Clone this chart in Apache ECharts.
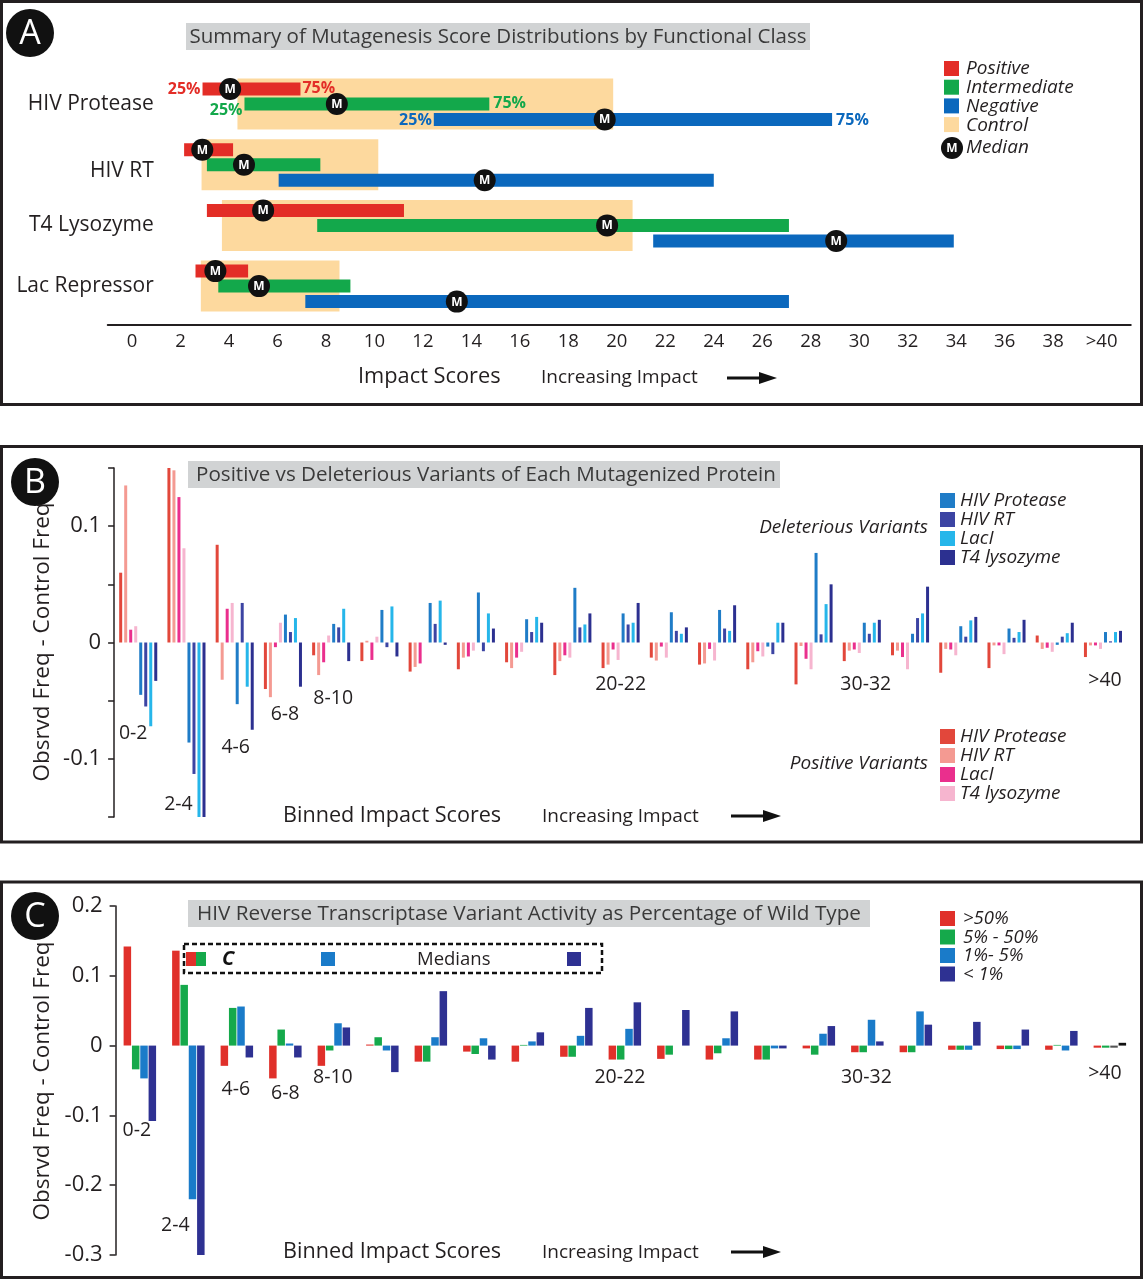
<!DOCTYPE html>
<html><head><meta charset="utf-8">
<script src="https://cdn.jsdelivr.net/npm/echarts@6/dist/echarts.min.js"></script>
<style>html,body{margin:0;padding:0;background:#fff}#main{width:1143px;height:1280px}</style>
</head><body><div id="main"></div>
<script>
const FONT = '"Open Sans", "Noto Sans", sans-serif';
const INK = '#231f20';

// ---------- Panel A data ----------
const proteins = ['HIV Protease', 'HIV RT', 'T4 Lysozyme', 'Lac Repressor'];
const scoreTicks = [0,2,4,6,8,10,12,14,16,18,20,22,24,26,28,30,32,34,36,38,40];
const controlLow = [4.35, 2.87, 3.71, 2.84];
const controlHigh = [19.85, 10.16, 20.65, 8.56];
const positiveLow = [2.91, 2.15, 3.09, 2.62];
const positiveHigh = [6.95, 4.17, 11.22, 4.79];
const positiveMedian = [4.05, 2.90, 5.41, 3.44];
const intermediateLow = [4.64, 3.09, 7.64, 3.56];
const intermediateHigh = [14.74, 7.77, 27.1, 9.01];
const intermediateMedian = [8.45, 4.62, 19.6, 5.24];
const negativeLow = [12.45, 6.05, 21.5, 7.15];
const negativeHigh = [28.88, 24.0, 33.9, 27.1];
const negativeMedian = [19.5, 14.55, 29.05, 13.4];

// ---------- Panel B data ----------
const bins = ['0-2','2-4','4-6','6-8','8-10','10-12','12-14','14-16','16-18','18-20','20-22','22-24','24-26','26-28','28-30','30-32','32-34','34-36','36-38','38-40','>40'];
const posProtease = [0.060, 0.150, 0.084, -0.040, -0.011, -0.016, -0.025, -0.023, -0.017, -0.028, -0.022, -0.013, -0.019, -0.023, -0.036, -0.016, -0.011, -0.026, -0.022, 0.006, -0.0125];
const posRT = [0.135, 0.148, -0.032, -0.047, -0.028, 0.0015, -0.021, -0.013, -0.022, -0.016, -0.019, -0.0155, -0.018, -0.017, -0.003, -0.007, -0.007, -0.0055, -0.0025, -0.0055, -0.0025];
const posLacI = [0.011, 0.125, 0.029, -0.004, -0.017, -0.015, -0.018, -0.012, -0.013, -0.011, -0.006, -0.0035, -0.0055, -0.0075, -0.014, -0.006, -0.0125, -0.006, -0.0025, -0.0045, -0.0025];
const posT4 = [0.014, 0.081, 0.034, 0.017, 0.006, 0.005, 0, -0.007, -0.008, -0.013, -0.015, -0.013, -0.0155, -0.012, -0.023, -0.009, -0.023, -0.011, -0.010, -0.008, -0.0055];
const delProtease = [-0.045, -0.086, -0.053, 0.024, 0.016, 0.028, 0.034, 0.043, 0.020, 0.047, 0.025, 0.026, 0.028, -0.0035, 0.077, 0.017, 0.0075, 0.014, 0.012, -0.002, 0.009];
const delRT = [-0.055, -0.113, 0.034, 0.009, 0.013, -0.004, 0.016, -0.0075, 0.009, 0.013, 0.0155, 0.010, 0.012, -0.010, 0.007, 0.0075, 0.021, 0.005, 0.004, 0.005, 0.001];
const delLacI = [-0.072, -0.150, -0.038, 0.021, 0.029, 0.031, 0.036, 0.025, 0.022, 0.0155, 0.017, 0.0075, 0.010, 0.017, 0.033, 0.017, 0.025, 0.019, 0.009, 0.008, 0.009];
const delT4 = [-0.033, -0.150, -0.075, -0.038, -0.016, -0.012, -0.002, 0.012, 0.017, 0.025, 0.034, 0.013, 0.032, 0.017, 0.050, 0.0195, 0.048, 0.022, 0.0195, 0.017, 0.010];

// ---------- Panel C data ----------
const actAbove50 = [0.142, 0.136, -0.029, -0.047, -0.029, 0.0015, -0.023, -0.0086, -0.023, -0.016, -0.020, -0.019, -0.020, -0.020, -0.004, -0.0095, -0.0095, -0.006, -0.005, -0.006, -0.003];
const act5to50 = [-0.034, 0.087, 0.054, 0.023, -0.007, 0.012, -0.023, -0.012, 0.001, -0.016, -0.020, -0.013, -0.011, -0.020, -0.013, -0.0095, -0.0095, -0.006, -0.005, 0.001, -0.003];
const act1to5 = [-0.047, -0.220, 0.056, 0.003, 0.032, -0.007, 0.012, 0.0105, 0.006, 0.014, 0.024, 0, 0.0105, -0.004, 0.017, 0.037, 0.049, -0.006, -0.005, -0.007, -0.003];
const actBelow1 = [-0.108, -0.300, -0.017, -0.017, 0.026, -0.038, 0.078, -0.020, 0.019, 0.054, 0.062, 0.051, 0.049, -0.004, 0.028, 0.006, 0.030, 0.034, 0.023, 0.021, 0.004];

// shown bin labels
const labelledBins = ['0-2','2-4','4-6','6-8','8-10','20-22','30-32','>40'];

// ---------- styles ----------
const COL = {pos:'#e32d27', inter:'#13a84b', neg:'#0b68bd', ctrl:'#fdd99e'};
const colB = ['#e2473b', '#f49a92', '#ea2f8d', '#f6b5cf', '#1f7cc7', '#3c44a3', '#26b6ea', '#2c3090'];
const colC = ['#e0302a', '#15a94b', '#1a7bc9', '#2e3192'];
// label placement (value-units y, pixel dx) for the bin labels
const labelPosB = [[-0.078,-5],[-0.139,-8],[-0.090,1],[-0.0615,2],[-0.0477,2],[-0.0357,0],[-0.0357,4],[-0.0322,2]];
const labelPosC = [[-0.122,-3],[-0.258,-13],[-0.063,-1],[-0.0688,0],[-0.0458,-1],[-0.0458,-5],[-0.0458,-1],[-0.040,-5]];

function txt(x, y, text, size, opts) {
  opts = opts || {};
  return {type:'text', x:x, y:y, rotation: opts.rotation || 0, z:100,
    style:{text:text, fill: opts.fill || INK, fontSize:size, fontFamily:FONT,
      fontStyle: opts.italic ? 'italic' : 'normal', fontWeight: opts.bold ? 'bold' : 'normal',
      align: opts.align || 'left', verticalAlign:'middle', textAlign: opts.align || 'left', textVerticalAlign:'middle'}};
}
function box(x, y, w, h, fill) { return {type:'rect', z:90, shape:{x:x, y:y, width:w, height:h}, style:{fill:fill}}; }
function arrow(x0, y) {
  return [{type:'line', z:100, shape:{x1:x0, y1:y, x2:x0+36, y2:y}, style:{stroke:'#111', lineWidth:3}},
          {type:'polygon', z:100, shape:{points:[[x0+32,y-6],[x0+50,y],[x0+32,y+6]]}, style:{fill:'#111'}}];
}
function badge(cx, cy, letter) {
  return [{type:'circle', z:100, shape:{cx:cx, cy:cy, r:24}, style:{fill:'#111'}},
          txt(cx, cy+1, letter, 34, {fill:'#fff', align:'center'})];
}

const graphics = [];
// frames
[[1.5,1.5,1140,403],[1.5,446.5,1140,395.5],[1.5,882,1140,395.5]].forEach(r => {
  graphics.push({type:'rect', z:95, shape:{x:r[0], y:r[1], width:r[2], height:r[3]}, style:{fill:'none', stroke:INK, lineWidth:3}});
});
graphics.push(...badge(30, 33, 'A'), ...badge(35, 482, 'B'), ...badge(35, 916, 'C'));
// titles
const TITLE = '#3a3a3a';
graphics.push(box(186, 23, 624, 27, '#d1d3d4'), txt(498, 37, 'Summary of Mutagenesis Score Distributions by Functional Class', 20.5, {align:'center', fill:TITLE}));
graphics.push(box(188, 461, 592, 27, '#d1d3d4'), txt(486, 475, 'Positive vs Deleterious Variants of Each Mutagenized Protein', 20.6, {align:'center', fill:TITLE}));
graphics.push(box(188, 900, 682, 27, '#d1d3d4'), txt(529, 914, 'HIV Reverse Transcriptase Variant Activity as Percentage of Wild Type', 20.7, {align:'center', fill:TITLE}));
// legend A
[['Positive',COL.pos],['Intermediate',COL.inter],['Negative',COL.neg],['Control',COL.ctrl]].forEach((it, i) => {
  const y = 61 + i * 18.7;
  graphics.push(box(944, y, 15, 15, it[1]), txt(966, y + 8, it[0], 19, {italic:true}));
});
graphics.push({type:'circle', z:100, shape:{cx:952, cy:148, r:11}, style:{fill:'#111'}}, txt(952, 148.5, 'M', 12, {bold:true, fill:'#fff', align:'center'}), txt(966, 148, 'Median', 19, {italic:true}));
// axis titles
graphics.push(txt(358, 377, 'Impact Scores', 21.8), txt(541, 378, 'Increasing Impact', 19), ...arrow(727, 378));
graphics.push(txt(283, 816, 'Binned Impact Scores', 21.6), txt(542, 817, 'Increasing Impact', 19), ...arrow(731, 816));
graphics.push(txt(283, 1252, 'Binned Impact Scores', 21.6), txt(542, 1253, 'Increasing Impact', 19), ...arrow(731, 1252));
graphics.push(txt(43, 642, 'Obsrvd Freq - Control Freq', 22.5, {align:'center', rotation:Math.PI/2}));
graphics.push(txt(43, 1081, 'Obsrvd Freq - Control Freq', 22.5, {align:'center', rotation:Math.PI/2}));
// legend B
const protNamesB = ['HIV Protease','HIV RT','LacI','T4 lysozyme'];
protNamesB.forEach((n, i) => {
  graphics.push(box(940, 493 + i * 19, 15, 15, colB[4 + i]), txt(960, 501 + i * 19, n, 19, {italic:true}));
  graphics.push(box(940, 729 + i * 19, 15, 15, colB[i]), txt(960, 737 + i * 19, n, 19, {italic:true}));
});
graphics.push(txt(928, 528, 'Deleterious Variants', 19, {italic:true, align:'right'}));
graphics.push(txt(928, 764, 'Positive Variants', 19, {italic:true, align:'right'}));
// legend C
['>50%','5% - 50%','1%- 5%','< 1%'].forEach((n, i) => {
  graphics.push(box(940, 911 + i * 18.5, 15, 15, colC[i]), txt(963, 919 + i * 18.5, n, 18.5, {italic:true}));
});
graphics.push({type:'rect', z:95, shape:{x:184, y:944, width:418, height:29}, style:{fill:'none', stroke:'#111', lineWidth:2.5, lineDash:[5,3]}});
graphics.push(box(186, 952, 10, 14, colC[0]), box(196, 952, 10, 14, colC[1]), txt(222, 959, 'C', 20, {bold:true, italic:true, fill:'#111'}));
graphics.push(box(321, 952, 14, 14, colC[2]), txt(417, 960, 'Medians', 18.5), box(567, 952, 14, 14, colC[3]));

// ---------- Panel A series ----------
const pctStyle = {
  pos:   {left:'25%', right:'75%', dl:0, dr:-1, gapL:2, gapR:2},
  inter: {left:'25%', right:'75%', dl:6, dr:-1, gapL:2, gapR:4},
  neg:   {left:'25%', right:'75%', dl:1, dr:1, gapL:2, gapR:4}
};
function rangeSeries(name, low, high, color, dy, h, z, pct) {
  return {
    type:'custom', name:name, xAxisIndex:0, yAxisIndex:0, z:z, silent:true,
    encode:{x:[0,1], y:2},
    data: proteins.map((p, i) => [low[i], high[i], i]),
    renderItem: function (params, api) {
      const a = api.coord([api.value(0), api.value(2)]);
      const b = api.coord([api.value(1), api.value(2)]);
      const children = [{type:'rect', shape:{x:a[0], y:a[1] + dy - h / 2, width:b[0] - a[0], height:h}, style:{fill:color}}];
      if (pct && api.value(2) === 0) {
        const f = 'bold 16px ' + FONT;
        children.push({type:'text', style:{x:a[0] - pct.gapL, y:a[1] + dy + pct.dl, text:pct.left, fill:color, font:f, align:'right', verticalAlign:'middle', textAlign:'right', textVerticalAlign:'middle'}});
        children.push({type:'text', style:{x:b[0] + pct.gapR, y:a[1] + dy + pct.dr, text:pct.right, fill:color, font:f, align:'left', verticalAlign:'middle', textAlign:'left', textVerticalAlign:'middle'}});
      }
      return {type:'group', children:children};
    }
  };
}
function medianSeries(med, dy) {
  return {
    type:'custom', xAxisIndex:0, yAxisIndex:0, z:20, silent:true,
    encode:{x:0, y:1},
    data: proteins.map((p, i) => [med[i], i]),
    renderItem: function (params, api) {
      const c = api.coord([api.value(0), api.value(1)]);
      return {type:'group', children:[
        {type:'circle', shape:{cx:c[0], cy:c[1] + dy, r:11}, style:{fill:'#111'}},
        {type:'text', style:{x:c[0], y:c[1] + dy + 0.5, text:'M', fill:'#fff', font:'bold 12px ' + FONT, align:'center', verticalAlign:'middle', textAlign:'center', textVerticalAlign:'middle'}}
      ]};
    }
  };
}

// ---------- Panel B/C series ----------
const seriesB = [posProtease, posRT, posLacI, posT4, delProtease, delRT, delLacI, delT4].map((d, i) => ({
  type:'bar', xAxisIndex:1, yAxisIndex:1, data:d, barWidth:3, barGap:'67%', silent:true,
  itemStyle:{color:colB[i]}
}));
const seriesC = [actAbove50, act5to50, act1to5, actBelow1].map((d, i) => ({
  type:'bar', xAxisIndex:2, yAxisIndex:2, data:d, barWidth:7.5, barGap:'11%', silent:true,
  itemStyle:{color: function (p) {
    if (p.dataIndex === 20 && i === 2) return '#555';
    if (p.dataIndex === 20 && i === 3) return '#111';
    return colC[i];
  }}
}));
function binLabelSeries(xi, pos) {
  return {
    type:'custom', xAxisIndex:xi, yAxisIndex:xi, silent:true, z:30,
    encode:{x:0, y:1},
    data: labelledBins.map((b, k) => [bins.indexOf(b), pos[k][0], pos[k][1], k]),
    renderItem: function (params, api) {
      const c = api.coord([api.value(0), api.value(1)]);
      return {type:'text', style:{x:c[0] + api.value(2), y:c[1], text:labelledBins[api.value(3)], fill:INK,
        font:'19.5px ' + FONT, align:'center', verticalAlign:'middle', textAlign:'center', textVerticalAlign:'middle'}};
    }
  };
}

const yLabelB = v => (Math.abs(v - 0.1) < 1e-9 ? '0.1' : Math.abs(v) < 1e-9 ? '0' : Math.abs(v + 0.1) < 1e-9 ? '-0.1' : '');
const yLabelC = v => (Math.abs(v) < 1e-9 ? '0' : (Math.round(v * 10) / 10).toFixed(1));

const option = {
  backgroundColor:'#fff',
  animation:false,
  textStyle:{fontFamily:FONT},
  graphic:{elements:graphics},
  grid:[
    {left:107.75, top:73.65, width:1023, height:242.8, outerBoundsMode:'none', containLabel:false},
    {left:114.1, top:468, width:1013, height:349, outerBoundsMode:'none', containLabel:false},
    {left:115.6, top:906, width:1018.5, height:349, outerBoundsMode:'none', containLabel:false}
  ],
  xAxis:[
    {type:'value', gridIndex:0, min:-1, max:41.2, offset:8.6,
     axisLine:{show:true, lineStyle:{color:INK, width:2}}, axisTick:{show:false}, splitLine:{show:false},
     axisLabel:{customValues:scoreTicks, formatter: v => (v === 40 ? '>40' : String(v)), fontSize:18.5, margin:7, color:INK, fontFamily:FONT}},
    {type:'category', gridIndex:1, data:bins, show:false},
    {type:'category', gridIndex:2, data:bins, show:false}
  ],
  yAxis:[
    {type:'category', gridIndex:0, data:proteins, inverse:true,
     axisLine:{show:false}, axisTick:{show:false}, splitLine:{show:false},
     axisLabel:{fontSize:21, margin:-46, color:INK, fontFamily:FONT,
       formatter: (v) => (v === 'HIV RT' ? '{rt|' + v + '}' : v),
       rich:{rt:{fontSize:21, fontFamily:FONT, color:INK, padding:[12, 0, 0, 0]}}}},
    {type:'value', gridIndex:1, min:-0.15, max:0.15, interval:0.05,
     axisLine:{show:true, lineStyle:{color:INK, width:1.5}}, axisTick:{show:true, length:6, lineStyle:{color:INK, width:1.5}},
     splitLine:{show:false}, axisLabel:{formatter:yLabelB, fontSize:22, margin:13, color:INK, fontFamily:FONT}},
    {type:'value', gridIndex:2, min:-0.3, max:0.2, interval:0.1,
     axisLine:{show:true, lineStyle:{color:INK, width:1.5}}, axisTick:{show:true, length:6, lineStyle:{color:INK, width:1.5}},
     splitLine:{show:false}, axisLabel:{formatter:yLabelC, fontSize:22, margin:13, color:INK, fontFamily:FONT}}
  ],
  series:[
    rangeSeries('Control', controlLow, controlHigh, COL.ctrl, 0, 51, 2, null),
    rangeSeries('Positive', positiveLow, positiveHigh, COL.pos, -15, 13, 3, pctStyle.pos),
    rangeSeries('Intermediate', intermediateLow, intermediateHigh, COL.inter, 0, 13, 4, pctStyle.inter),
    rangeSeries('Negative', negativeLow, negativeHigh, COL.neg, 15.5, 13, 5, pctStyle.neg),
    medianSeries(positiveMedian, -15),
    medianSeries(intermediateMedian, 0),
    medianSeries(negativeMedian, 15.5),
    ...seriesB,
    ...seriesC,
    binLabelSeries(1, labelPosB),
    binLabelSeries(2, labelPosC)
  ]
};
const chart = echarts.init(document.getElementById('main'));
chart.setOption(option);
</script></body></html>
